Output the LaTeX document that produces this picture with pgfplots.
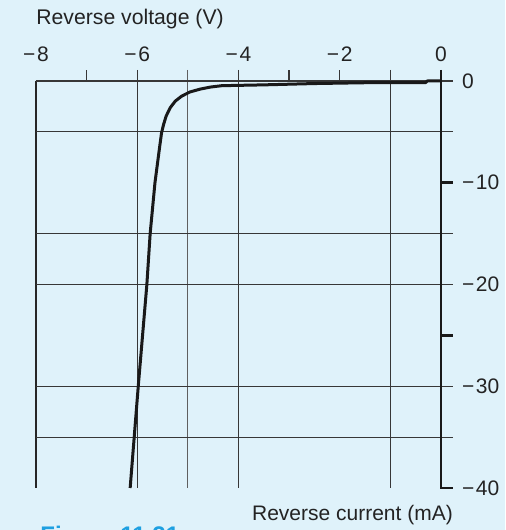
\documentclass[border=0pt]{standalone}
\usepackage{pgfplots}
\pgfplotsset{compat=1.18}
\usepackage{fontspec}
\setmainfont{Liberation Sans}
\definecolor{bg}{RGB}{223,242,250}
\definecolor{grd}{RGB}{55,55,55}
\definecolor{figblue}{RGB}{30,160,225}
\definecolor{txt}{RGB}{35,35,35}
\newcommand{\mn}{−\kern0.8pt}
\begin{document}
\begin{tikzpicture}
\useasboundingbox[fill=bg] (0,0) rectangle (252.5pt,265pt);
\begin{axis}[
  at={(18pt,21pt)}, anchor=south west,
  scale only axis, width=202.5pt, height=203.5pt,
  xmin=-8, xmax=0, ymin=-40, ymax=0,
  clip=false,
  axis x line=top, axis y line=right,
  axis line style={draw=none},
  major tick length=0pt,
  xtick={-8,-6,-4,-2,0}, xticklabels={\mn 8,\mn 6,\mn 4,\mn 2,0},
  ytick={0,-10,-20,-30,-40}, yticklabels={0,\mn 10,\mn 20,\mn 30,\mn 40},
  xticklabel style={font=\fontsize{10.5}{12}\selectfont, text=txt, anchor=south, yshift=6.2pt},
  yticklabel style={font=\fontsize{10.5}{12}\selectfont, text=txt, anchor=west, xshift=7pt},
]
% vertical grid lines
\draw[black!85, line width=0.65pt] (axis cs:-8,0) -- (axis cs:-8,-40);
\pgfplotsinvokeforeach{-6,-4,-1}{
  \draw[grd, line width=0.6pt] (axis cs:#1,1.1) -- (axis cs:#1,-40);
}
\draw[grd!80, line width=0.6pt] (axis cs:-5,1.1) -- (axis cs:-5,-40);
% short top ticks
\pgfplotsinvokeforeach{-7,-3,-2}{
  \draw[grd, line width=0.7pt] (axis cs:#1,0) -- (axis cs:#1,1.1);
}
% top line
\draw[grd, line width=0.6pt] (axis cs:-8,0) -- (axis cs:0.24,0);
% horizontal grid lines
\pgfplotsinvokeforeach{-5,-15,-20,-30,-35}{
  \draw[grd, line width=0.6pt] (axis cs:-8,#1) -- (axis cs:0.24,#1);
}
% right axis
\draw[black!90, line width=1.35pt, line join=miter] (axis cs:0,1.1) -- (axis cs:0,-40) -- (axis cs:0.24,-40);
\pgfplotsinvokeforeach{-10,-25}{
  \draw[black!90, line width=1.35pt] (axis cs:0,#1) -- (axis cs:0.24,#1);
}
% characteristic
\addplot[black!90, line width=1.5pt, line join=round] coordinates {
  (0,0) (-0.27,0) (-0.3,-0.15) (-1.5,-0.17) (-2.5,-0.25) (-3.5,-0.38)
  (-4.33,-0.46) (-4.56,-0.6) (-4.76,-0.8) (-4.96,-1.08) (-5.12,-1.48)
  (-5.25,-1.98) (-5.35,-2.64) (-5.43,-3.46) (-5.48,-4.28) (-5.52,-5.1)
  (-5.56,-6.57) (-5.65,-10) (-5.745,-15) (-5.81,-20)
  (-5.98,-30) (-6.14,-40)
};
\end{axis}
\node[anchor=base west, inner sep=0, text=txt, font=\fontsize{10.6}{12}\selectfont] at (18pt,252.5pt) {Reverse voltage (V)};
\node[anchor=base east, inner sep=0, text=txt, font=\fontsize{10.5}{12}\selectfont] at (226.6pt,4.6pt) {Reverse current (mA)};
\node[anchor=north west, inner sep=0, text=figblue, font=\fontsize{12}{14}\bfseries\selectfont] at (20pt,2pt) {Figure 11.21};
\end{tikzpicture}
\end{document}
